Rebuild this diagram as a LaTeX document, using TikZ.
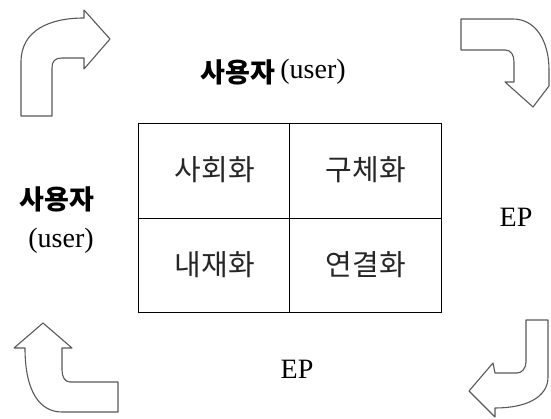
\documentclass[tikz,border=0pt]{standalone}
\usepackage{fontspec}
\setmainfont{Liberation Serif}
\newfontfamily\kr{Noto Sans CJK KR}
\begin{document}
\begin{tikzpicture}[x=1pt,y=-1pt,
  arrowshape/.style={draw=black!65,line width=1.1pt,fill=white,line join=round},
  cell/.style={font=\kr\fontsize{29}{32}\selectfont,text=black!85},
  lbl/.style={font=\fontsize{28}{32}\selectfont},
  krb/.style={font=\kr\bfseries\fontsize{27}{30}\selectfont},
  grid/.style={draw=black,line width=0.9pt}]
\useasboundingbox (0,0) rectangle (551,419);
% table
\draw[grid] (138,123) rectangle (441,312);
\draw[grid] (289,123) -- (289,312);
\draw[grid] (138,218) -- (441,218);
\node[cell] (c11) at (215,170) {사회화};
\node[cell] (c12) at (366,170) {구체화};
\node[cell] (c21) at (215,265) {내재화};
\node[cell] (c22) at (366,265) {연결화};
% labels
\node[krb] (top1) at (238,72) {사용자};
\node[lbl] (top2) at (313,72) {(user)};
\node[krb] (left1) at (57,199) {사용자};
\node[lbl] (left2) at (61,241) {(user)};
\node[lbl] (ep1) at (516,217) {EP};
\node[lbl] (ep2) at (297,369) {EP};
% arrow top-left
\draw[arrowshape] (21,116) -- (52,116) -- (52,68) .. controls (52,61) and (55,58) .. (62,58)
  -- (84,58) -- (84,69) -- (110,39) -- (84,10) -- (84,18)
  .. controls (50,18) and (21,30) .. (21,62) -- cycle;
% arrow top-right
\draw[arrowshape] (461,19) -- (513,19) .. controls (535,19) and (549,40) .. (549,70)
  -- (549,86) -- (533,107) -- (505,82) -- (514,82) -- (514,62)
  .. controls (514,55) and (511,50) .. (505,50) -- (461,50) -- cycle;
% arrow bottom-left
\draw[arrowshape] (43,323) -- (14,348) -- (25,348) .. controls (25,392) and (40,412) .. (62,412)
  -- (118,412) -- (118,382) -- (70,382) .. controls (65,382) and (62,377) .. (62,370)
  -- (62,348) -- (72,348) -- cycle;
% arrow bottom-right
\draw[arrowshape] (526,320) -- (548,320) -- (548,377) .. controls (548,398) and (525,408) .. (495,408)
  -- (495,417) -- (469,391) -- (493,363) -- (495,373) -- (517,373)
  .. controls (522,373) and (526,368) .. (526,362) -- cycle;
\end{tikzpicture}
\end{document}
